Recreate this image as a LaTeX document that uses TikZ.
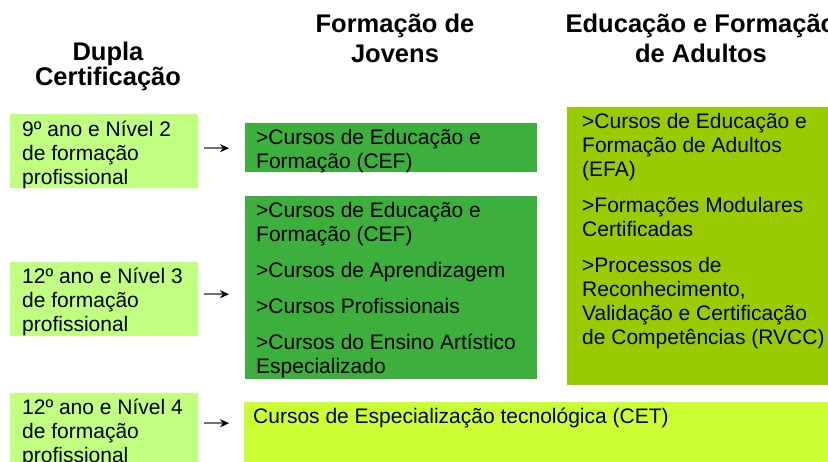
\documentclass[tikz,border=0pt]{standalone}
\usepackage{fontspec}
\setmainfont{Liberation Sans}
\usetikzlibrary{arrows.meta}

\definecolor{dcgreen}{HTML}{C0FF80}
\definecolor{fjgreen}{HTML}{3CAF3C}
\definecolor{efagreen}{HTML}{99CC00}
\definecolor{cetgreen}{HTML}{CCFF33}

% cell text: width, height, left indent, first-line height, text
\newcommand{\cellbox}[5]{\parbox[t][#2][t]{#1}{\setlength{\leftskip}{#3}\setlength{\parskip}{12pt}\rule{0pt}{#4}#5}}

\begin{document}
\begin{tikzpicture}[x=1pt,y=-1pt,
  head/.style={align=center,font=\fontsize{25.5}{30}\selectfont\bfseries},
  cell/.style={anchor=north west,inner sep=0pt,font=\fontsize{21}{24}\selectfont},
  arr/.style={draw=black!55,line width=2pt,-{Stealth[length=9pt,width=8pt,black]}}]
\useasboundingbox (0,0) rectangle (828,461);
\clip (0,0) rectangle (828,461);

% column heads
\node[head,font=\fontsize{25.5}{23}\selectfont\bfseries,anchor=base] (hdc) at (108,85) {Dupla\\Certifica\c{c}\~ao};
\node[head,anchor=base] (hfj) at (395,62) {Forma\c{c}\~ao de\\Jovens};
\node[head,anchor=base] (hefa) at (701,62) {Educa\c{c}\~ao e Forma\c{c}\~ao\\de Adultos};

% dupla certificacao
\node[cell,fill=dcgreen] (dc1) at (10,114) {\cellbox{188pt}{74pt}{12pt}{22pt}{9º ano e Nível 2\\de formação\\profissional}};
\node[cell,fill=dcgreen] (dc2) at (10,262) {\cellbox{188pt}{74pt}{12pt}{21pt}{12º ano e Nível 3\\de formação\\profissional}};
\node[cell,fill=dcgreen] (dc3) at (10,393) {\cellbox{188pt}{74pt}{12pt}{21pt}{12º ano e Nível 4\\de formação\\profissional}};

% formacao de jovens
\node[cell,fill=fjgreen] (fj1) at (245,123) {\cellbox{292pt}{49pt}{11pt}{21pt}{>Cursos de Educação e\\Formação (CEF)}};
\node[cell,fill=fjgreen] (fj2) at (245,196) {\cellbox{292pt}{183pt}{11pt}{21pt}{>Cursos de Educação e\\Formação (CEF)\par
  >Cursos de Aprendizagem\par
  >Cursos Profissionais\par
  >Cursos do Ensino Artístico\\Especializado}};

% adultos
\node[cell,fill=efagreen] (efa) at (567,107) {\cellbox{280pt}{278pt}{15pt}{21pt}{>Cursos de Educação e\\Formação de Adultos\\(EFA)\par
  >Formações Modulares\\Certificadas\par
  >Processos de\\Reconhecimento,\\Validação e Certificação\\de Competências (RVCC)}};

% CET
\node[cell,fill=cetgreen] (cet) at (244,402) {\cellbox{600pt}{70pt}{9pt}{21pt}{Cursos de Especialização tecnológica (CET)}};

% arrows
\draw[arr] ([xshift=6pt,yshift=3pt]dc1.east) -- ([xshift=-16pt,yshift=3pt]dc1.east -| fj1.west);
\draw[arr] ([xshift=6pt,yshift=5pt]dc2.east) -- ([xshift=-16pt,yshift=5pt]dc2.east -| fj2.west);
\draw[arr] ([xshift=6pt,yshift=7pt]dc3.east) -- ([xshift=-15pt,yshift=7pt]dc3.east -| cet.west);
\end{tikzpicture}
\end{document}
